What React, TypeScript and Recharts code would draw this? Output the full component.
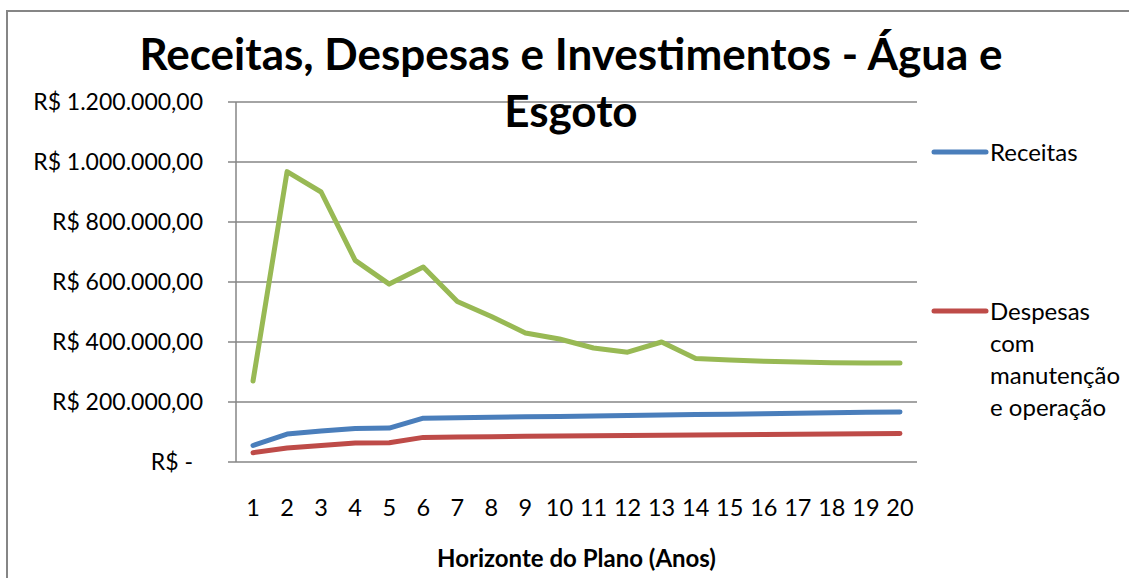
import React from "react";
import { LineChart, Line, XAxis, YAxis, CartesianGrid, Legend } from "recharts";

const years = [1, 2, 3, 4, 5, 6, 7, 8, 9, 10, 11, 12, 13, 14, 15, 16, 17, 18, 19, 20];
const receitas = [55000, 93000, 103000, 112000, 113000, 146000, 147500, 149000, 150500, 152000, 153500, 155000, 156500, 158000, 159500, 161000, 162500, 164000, 165500, 167000];
const despesas = [31000, 47000, 55000, 63000, 64000, 82000, 83500, 84500, 85500, 86500, 87500, 88500, 89000, 90000, 91000, 92000, 92500, 93500, 94000, 95000];
const investimentos = [270000, 968000, 900000, 672000, 593000, 650000, 535000, 485000, 430000, 410000, 380000, 366000, 400000, 345000, 340000, 336000, 333000, 331000, 330000, 330000];
const yTicks = [0, 200000, 400000, 600000, 800000, 1000000, 1200000];

const titleLines = ["Receitas, Despesas e Investimentos - Água e", "Esgoto"];
const xAxisTitle = "Horizonte do Plano (Anos)";
const seriesNames = {
  receitas: "Receitas",
  despesas: "Despesas com manutenção e operação",
  investimentos: "Investimentos",
};
const legendLines: Record<string, string[]> = {
  receitas: ["Receitas"],
  despesas: ["Despesas", "com", "manutenção", "e operação"],
};

const data = years.map((y, i) => ({
  year: y,
  receitas: receitas[i],
  despesas: despesas[i],
  investimentos: investimentos[i],
}));
const boundaryTicks = years.map((y) => y - 0.5).concat([years[years.length - 1] + 0.5]);

const FONT = "Lato, 'Open Sans', sans-serif";
const GRAY = "#868686";
const BLUE = "#4A7EBB";
const RED = "#BE4B48";
const GREEN = "#98B954";

function fmt(v: number): string {
  if (v === 0) return "R$ -";
  const s = Math.round(v).toString();
  let out = "";
  for (let i = 0; i < s.length; i++) {
    const fromEnd = s.length - i;
    out += s[i];
    if (fromEnd > 1 && (fromEnd - 1) % 3 === 0) out += ".";
  }
  return "R$ " + out + ",00";
}

const YTick = (props: any) => {
  const { x, y, payload } = props;
  const v = payload.value;
  const dx = v === 0 ? -10 : 0;
  return (
    <text x={x + dx} y={y} dy="0.36em" textAnchor="end" fontFamily={FONT} fontSize={23} fill="#000">
      {fmt(v)}
    </text>
  );
};

const XTick = (props: any) => {
  const { x, y, payload } = props;
  return (
    <text x={x} y={y} dy="0.7em" textAnchor="middle" fontFamily={FONT} fontSize={23.5} fill="#000">
      {payload.value}
    </text>
  );
};

const LegendContent = (props: any) => {
  const { payload } = props;
  const tops: Record<string, number> = { receitas: 0, despesas: 159 };
  const items = (payload || []).filter((p: any) => legendLines[p.dataKey as string]);
  return (
    <div style={{ position: "relative", width: 0, height: 0, fontFamily: FONT, fontSize: 24 }}>
      {items.map((p: any) => {
        const key = p.dataKey as string;
        const lines = legendLines[key];
        return (
          <div key={key} style={{ position: "absolute", left: 0, top: tops[key] ?? 0 }}>
            <svg width={60} height={10} style={{ position: "absolute", left: 0, top: 0 }}>
              <line x1={3} y1={5} x2={55} y2={5} stroke={p.color} strokeWidth={5} strokeLinecap="round" />
            </svg>
            <div style={{ position: "absolute", left: 59, top: -11, lineHeight: "32px", whiteSpace: "nowrap", color: "#000" }}>
              {lines.map((l, i) => (
                <div key={i}>{l}</div>
              ))}
            </div>
          </div>
        );
      })}
    </div>
  );
};

export default function App() {
  return (
    <div style={{ position: "absolute", left: 0, top: 0, width: 1129, height: 578, background: "#fff", overflow: "hidden" }}>
      <div style={{ position: "absolute", left: 6, top: 10, width: 1123, height: 2, background: GRAY }} />
      <div style={{ position: "absolute", left: 6, top: 10, width: 2, height: 568, background: GRAY }} />
      <LineChart
        width={1129}
        height={578}
        data={data}
        margin={{ top: 102, right: 212, bottom: 0, left: 0 }}
        style={{ position: "absolute", left: 0, top: 0 }}
      >
        <CartesianGrid vertical={false} stroke={GRAY} strokeWidth={1.5} yAxisId="y" xAxisId={1} />
        <XAxis
          xAxisId={0}
          dataKey="year"
          type="number"
          domain={[0.5, 20.5]}
          ticks={boundaryTicks}
          interval={0}
          height={0}
          tickFormatter={() => ""}
          stroke={GRAY}
          strokeWidth={1.5}
          tickSize={8}
          allowDataOverflow
        />
        <XAxis
          xAxisId={1}
          dataKey="year"
          type="number"
          domain={[0.5, 20.5]}
          ticks={years}
          interval={0}
          height={116}
          axisLine={false}
          tickLine={false}
          tick={<XTick />}
          tickMargin={32}
          allowDataOverflow
        />
        <YAxis
          yAxisId="y"
          width={236}
          domain={[0, 1200000]}
          ticks={yTicks}
          interval={0}
          stroke={GRAY}
          strokeWidth={1.5}
          tickSize={8}
          tickMargin={25}
          tick={<YTick />}
        />
        <Legend
          content={<LegendContent />}
          wrapperStyle={{ position: "absolute", left: 931, top: 147, width: 0, height: 0, overflow: "visible" }}
        />
        <Line
          xAxisId={1}
          yAxisId="y"
          type="linear"
          dataKey="receitas"
          name={seriesNames.receitas}
          stroke={BLUE}
          strokeWidth={5}
          strokeLinecap="round"
          strokeLinejoin="round"
          dot={false}
          activeDot={false}
          isAnimationActive={false}
        />
        <Line
          xAxisId={1}
          yAxisId="y"
          type="linear"
          dataKey="despesas"
          name={seriesNames.despesas}
          stroke={RED}
          strokeWidth={5}
          strokeLinecap="round"
          strokeLinejoin="round"
          dot={false}
          activeDot={false}
          isAnimationActive={false}
        />
        <Line
          xAxisId={1}
          yAxisId="y"
          type="linear"
          dataKey="investimentos"
          name={seriesNames.investimentos}
          stroke={GREEN}
          strokeWidth={5}
          strokeLinecap="round"
          strokeLinejoin="round"
          dot={false}
          activeDot={false}
          legendType="none"
          isAnimationActive={false}
        />
      </LineChart>
      <div
        style={{
          position: "absolute",
          left: 0,
          top: 25,
          width: 1142,
          textAlign: "center",
          fontFamily: FONT,
          fontWeight: 700,
          fontSize: 44,
          lineHeight: "57px",
          color: "#000",
          pointerEvents: "none",
        }}
      >
        {titleLines.map((l, i) => (
          <div key={i}>{l}</div>
        ))}
      </div>
      <div
        style={{
          position: "absolute",
          left: 236,
          top: 543,
          width: 681,
          textAlign: "center",
          fontFamily: FONT,
          fontWeight: 700,
          fontSize: 24,
          lineHeight: "30px",
          color: "#000",
        }}
      >
        {xAxisTitle}
      </div>
    </div>
  );
}
